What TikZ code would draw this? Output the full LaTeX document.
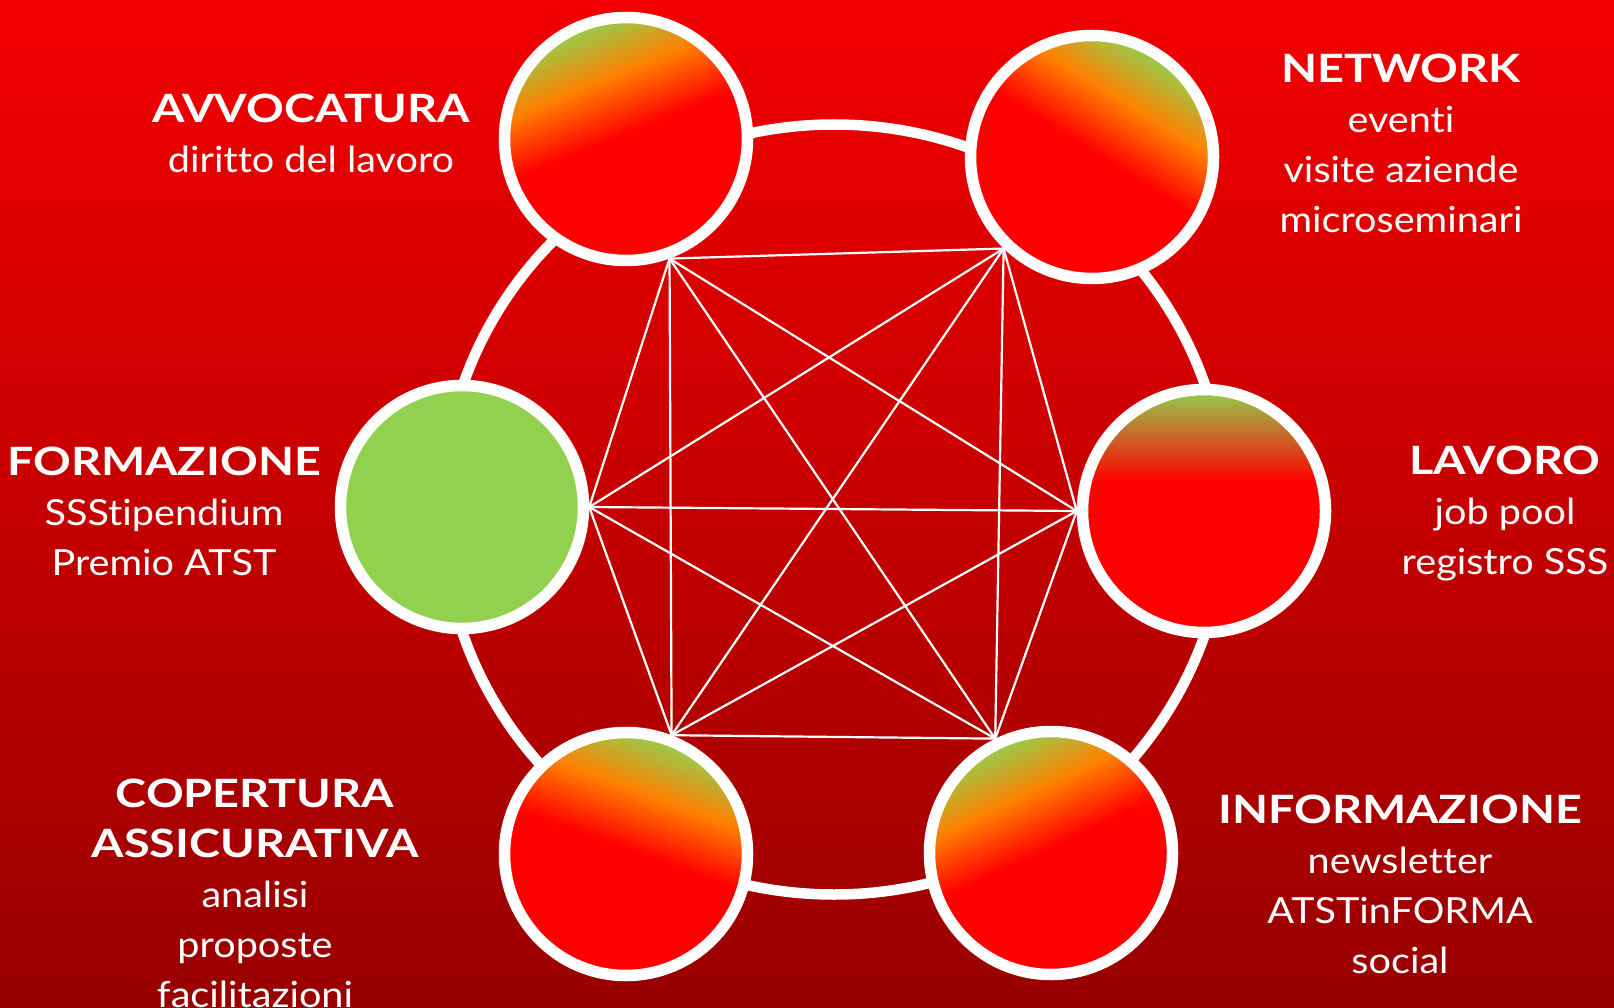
\documentclass[tikz,border=0pt]{standalone}
\usepackage{fontspec}
\setmainfont{Lato}[FakeStretch=1.1, Ligatures=NoCommon]
\newfontfamily\headfont{Lato}[FakeStretch=1.2]
\definecolor{cred}{RGB}{255,0,0}
\definecolor{corange}{RGB}{255,128,0}
\definecolor{cgreen}{RGB}{146,208,80}
\definecolor{bgtop}{RGB}{243,0,0}
\definecolor{bgbot}{RGB}{152,0,0}
\pgfdeclareverticalshading{shGOR}{100bp}{color(0bp)=(cred); color(51bp)=(cred); color(63bp)=(corange); color(75bp)=(cgreen); color(100bp)=(cgreen)}
\pgfdeclareverticalshading{shGR}{100bp}{color(0bp)=(cred); color(56bp)=(cred); color(75bp)=(cgreen); color(100bp)=(cgreen)}
\pgfdeclarelayer{bglayer}
\pgfdeclarelayer{midlayer}
\pgfsetlayers{bglayer,midlayer,main}
\newcommand{\hd}[1]{{\headfont\bfseries\fontsize{39}{50}\selectfont #1}}
\tikzset{
  hub/.style={circle, inner sep=0pt, minimum size=243pt, line width=11.5pt, draw=white},
  grad/.style={shade, shading=shGOR, shading angle=#1},
  link/.style={white, line width=2.2pt},
  lbl/.style={text=white, align=center, anchor=base, inner sep=0pt, font=\fontsize{36}{50}\selectfont},
}
\begin{document}
\begin{tikzpicture}[x=1pt, y=-1pt]
\useasboundingbox (0,0) rectangle (1614,1008);
\begin{pgfonlayer}{bglayer}
\shade[top color=bgtop, bottom color=bgbot] (0,0) rectangle (1614,1008);
\draw[white, line width=10.5pt] (834,509.5) ellipse [x radius=392, y radius=385];
\end{pgfonlayer}
% hubs
\node[hub, grad=22] (A) at (626,139) {};
\node[hub, grad=-32] (N) at (1092,157) {};
\node[hub, shade, shading=shGR] (L) at (1204,511) {};
\node[hub, fill=cgreen] (F) at (462,507) {};
\node[hub, grad=-20] (C) at (626,854) {};
\node[hub, grad=25] (I) at (1051,853) {};
% link meeting points
\coordinate (pA) at (A.290);
\coordinate (pN) at (N.226);
\coordinate (pL) at (L.180);
\coordinate (pF) at (F.0);
\coordinate (pC) at (C.69);
\coordinate (pI) at (I.116);
\begin{pgfonlayer}{midlayer}
\foreach \a/\b in {pA/pN,pA/pL,pA/pF,pA/pC,pA/pI,pN/pL,pN/pF,pN/pC,pN/pI,pL/pF,pL/pC,pL/pI,pF/pC,pF/pI,pC/pI}
  \draw[link] (\a) -- (\b);
\end{pgfonlayer}
% labels (anchor = baseline of the last line)
\node[lbl] (tA) at (311,173) {\hd{AVVOCATURA}\\diritto del lavoro};
\node[lbl] (tN) at (1401,233) {\hd{NETWORK}\\eventi\\visite aziende\\microseminari};
\node[lbl] (tF) at (164,575) {\hd{FORMAZIONE}\\SSStipendium\\Premio ATST};
\node[lbl] (tL) at (1505,574) {\hd{LAVORO}\\job pool\\registro SSS};
\node[lbl] (tC) at (255,1007) {\hd{COPERTURA}\\\hd{ASSICURATIVA}\\analisi\\proposte\\facilitazioni};
\node[lbl] (tI) at (1400,973) {\hd{INFORMAZIONE}\\newsletter\\ATSTinFORMA\\social};
\end{tikzpicture}
\end{document}
